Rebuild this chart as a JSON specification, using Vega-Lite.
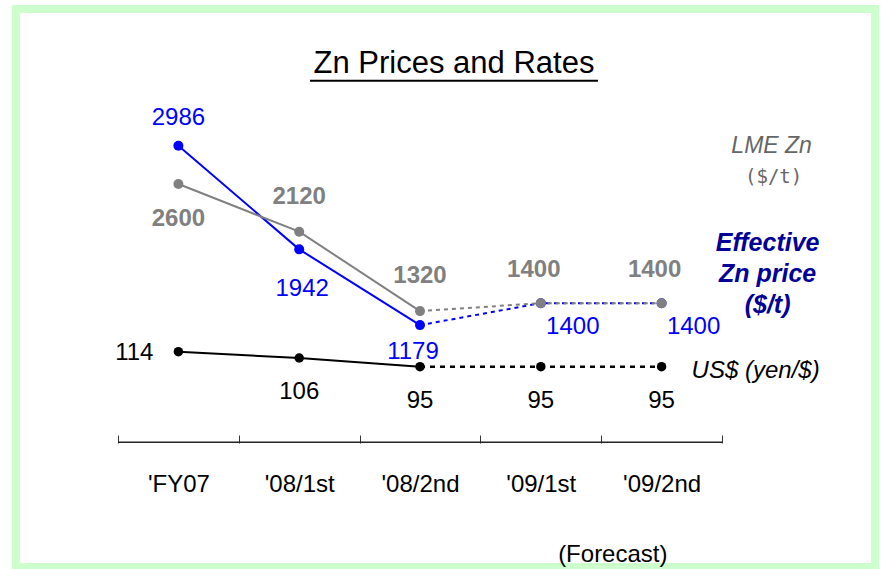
{
  "$schema": "https://vega.github.io/schema/vega-lite/v6.json",
  "width": 859,
  "height": 558,
  "autosize": {"type": "none"},
  "padding": {"left": 16, "top": 9, "right": 6, "bottom": 2},
  "background": "white",
  "config": {
    "view": {"stroke": "#ccffcc", "strokeWidth": 8, "fill": "white"},
    "axisX": {
      "offset": -124, "domain": false, "grid": false, "ticks": true, "tickBand": "extent",
      "tickSize": -8, "tickColor": "#333333", "tickWidth": 1,
      "labelFont": "Liberation Sans", "labelFontSize": 24, "labelColor": "black", "labelPadding": 37, "labelAngle": 0
    },
    "text": {"font": "Liberation Sans", "fontSize": 24, "baseline": "alphabetic"}
  },
  "datasets": {
    "d": [
      {"period": "'FY07", "series": "Eff", "value": 2986},
      {"period": "'08/1st", "series": "Eff", "value": 1942},
      {"period": "'08/2nd", "series": "Eff", "value": 1179},
      {"period": "'09/1st", "series": "Eff", "value": 1400},
      {"period": "'09/2nd", "series": "Eff", "value": 1400},
      {"period": "'FY07", "series": "LME", "value": 2600},
      {"period": "'08/1st", "series": "LME", "value": 2120},
      {"period": "'08/2nd", "series": "LME", "value": 1320},
      {"period": "'09/1st", "series": "LME", "value": 1400},
      {"period": "'09/2nd", "series": "LME", "value": 1400},
      {"period": "'FY07", "series": "USD", "value": 114},
      {"period": "'08/1st", "series": "USD", "value": 106},
      {"period": "'08/2nd", "series": "USD", "value": 95},
      {"period": "'09/1st", "series": "USD", "value": 95},
      {"period": "'09/2nd", "series": "USD", "value": 95}
    ],
    "one": [{}]
  },
  "resolve": {"scale": {"y": "independent"}},
  "layer": [
    {
      "data": {"name": "one"},
      "mark": {"type": "rule", "stroke": "#222222", "strokeWidth": 1.5, "xOffset": -60.4, "x2Offset": 60.4},
      "encoding": {
        "x": {"datum": "'FY07", "type": "nominal", "title": null, "scale": {"type": "band", "round": false, "domain": ["'FY07", "'08/1st", "'08/2nd", "'09/1st", "'09/2nd"], "paddingInner": 0, "paddingOuter": 0, "range": [102, 706]}},
        "x2": {"datum": "'09/2nd"},
        "y": {"datum": 0, "type": "quantitative", "scale": {"domain": [-1256.8, 4362.5], "nice": false, "zero": false}, "axis": null}
      }
    },
    {
      "data": {"name": "d"},
      "transform": [
        {"filter": {"field": "series", "oneOf": ["LME", "Eff"]}},
        {"filter": {"field": "period", "oneOf": ["'FY07", "'08/1st", "'08/2nd"]}}
      ],
      "mark": {"type": "line", "strokeWidth": 2},
      "encoding": {
        "x": {"field": "period", "type": "nominal", "title": null, "scale": {"type": "band", "round": false, "domain": ["'FY07", "'08/1st", "'08/2nd", "'09/1st", "'09/2nd"], "paddingInner": 0, "paddingOuter": 0, "range": [102, 706]}},
        "y": {"field": "value", "type": "quantitative", "scale": {"domain": [-1256.8, 4362.5], "nice": false, "zero": false}, "axis": null},
        "color": {"field": "series", "type": "nominal", "scale": {"domain": ["LME", "Eff"], "range": ["#808080", "#0000ff"]}, "legend": null}
      }
    },
    {
      "data": {"name": "d"},
      "transform": [
        {"filter": {"field": "series", "oneOf": ["LME", "Eff"]}},
        {"filter": {"field": "period", "oneOf": ["'08/2nd", "'09/1st", "'09/2nd"]}}
      ],
      "mark": {"type": "line", "strokeWidth": 2, "strokeDash": [4, 4]},
      "encoding": {
        "x": {"field": "period", "type": "nominal", "title": null, "scale": {"type": "band", "round": false, "domain": ["'FY07", "'08/1st", "'08/2nd", "'09/1st", "'09/2nd"], "paddingInner": 0, "paddingOuter": 0, "range": [102, 706]}},
        "y": {"field": "value", "type": "quantitative", "scale": {"domain": [-1256.8, 4362.5], "nice": false, "zero": false}, "axis": null},
        "color": {"field": "series", "type": "nominal", "scale": {"domain": ["LME", "Eff"], "range": ["#808080", "#0000ff"]}, "legend": null}
      }
    },
    {
      "data": {"name": "d"},
      "transform": [{"filter": {"field": "series", "oneOf": ["LME", "Eff"]}}],
      "mark": {"type": "circle", "size": 100, "opacity": 1},
      "encoding": {
        "x": {"field": "period", "type": "nominal", "title": null, "scale": {"type": "band", "round": false, "domain": ["'FY07", "'08/1st", "'08/2nd", "'09/1st", "'09/2nd"], "paddingInner": 0, "paddingOuter": 0, "range": [102, 706]}},
        "y": {"field": "value", "type": "quantitative", "scale": {"domain": [-1256.8, 4362.5], "nice": false, "zero": false}, "axis": null},
        "color": {"field": "series", "type": "nominal", "scale": {"domain": ["LME", "Eff"], "range": ["#808080", "#0000ff"]}, "legend": null}
      }
    },
    {
      "data": {"name": "d"},
      "transform": [
        {"filter": {"field": "series", "equal": "USD"}},
        {"filter": {"field": "period", "oneOf": ["'FY07", "'08/1st", "'08/2nd"]}}
      ],
      "mark": {"type": "line", "strokeWidth": 2, "color": "black"},
      "encoding": {
        "x": {"field": "period", "type": "nominal", "title": null, "scale": {"type": "band", "round": false, "domain": ["'FY07", "'08/1st", "'08/2nd", "'09/1st", "'09/2nd"], "paddingInner": 0, "paddingOuter": 0, "range": [102, 706]}},
        "y": {"field": "value", "type": "quantitative", "scale": {"domain": [-158.9, 548.4], "nice": false, "zero": false}, "axis": null}
      }
    },
    {
      "data": {"name": "d"},
      "transform": [
        {"filter": {"field": "series", "equal": "USD"}},
        {"filter": {"field": "period", "oneOf": ["'08/2nd", "'09/1st", "'09/2nd"]}}
      ],
      "mark": {"type": "line", "strokeWidth": 2.5, "strokeDash": [5, 5], "color": "black"},
      "encoding": {
        "x": {"field": "period", "type": "nominal", "title": null, "scale": {"type": "band", "round": false, "domain": ["'FY07", "'08/1st", "'08/2nd", "'09/1st", "'09/2nd"], "paddingInner": 0, "paddingOuter": 0, "range": [102, 706]}},
        "y": {"field": "value", "type": "quantitative", "scale": {"domain": [-158.9, 548.4], "nice": false, "zero": false}, "axis": null}
      }
    },
    {
      "data": {"name": "d"},
      "transform": [{"filter": {"field": "series", "equal": "USD"}}],
      "mark": {"type": "circle", "size": 90, "opacity": 1, "color": "black"},
      "encoding": {
        "x": {"field": "period", "type": "nominal", "title": null, "scale": {"type": "band", "round": false, "domain": ["'FY07", "'08/1st", "'08/2nd", "'09/1st", "'09/2nd"], "paddingInner": 0, "paddingOuter": 0, "range": [102, 706]}},
        "y": {"field": "value", "type": "quantitative", "scale": {"domain": [-158.9, 548.4], "nice": false, "zero": false}, "axis": null}
      }
    },
    {
      "data": {"name": "d"},
      "transform": [{"filter": {"field": "series", "equal": "Eff"}}, {"filter": {"field": "period", "equal": "'FY07"}}],
      "mark": {"type": "text", "color": "#0000ff", "align": "center", "dy": -21},
      "encoding": {
        "x": {"field": "period", "type": "nominal", "title": null, "scale": {"type": "band", "round": false, "domain": ["'FY07", "'08/1st", "'08/2nd", "'09/1st", "'09/2nd"], "paddingInner": 0, "paddingOuter": 0, "range": [102, 706]}},
        "y": {"field": "value", "type": "quantitative", "scale": {"domain": [-1256.8, 4362.5], "nice": false, "zero": false}, "axis": null},
        "text": {"field": "value", "type": "quantitative", "format": "d"}
      }
    },
    {
      "data": {"name": "d"},
      "transform": [{"filter": {"field": "series", "equal": "Eff"}}, {"filter": {"field": "period", "equal": "'08/1st"}}],
      "mark": {"type": "text", "color": "#0000ff", "align": "center", "dx": 3, "dy": 47},
      "encoding": {
        "x": {"field": "period", "type": "nominal", "title": null, "scale": {"type": "band", "round": false, "domain": ["'FY07", "'08/1st", "'08/2nd", "'09/1st", "'09/2nd"], "paddingInner": 0, "paddingOuter": 0, "range": [102, 706]}},
        "y": {"field": "value", "type": "quantitative", "scale": {"domain": [-1256.8, 4362.5], "nice": false, "zero": false}, "axis": null},
        "text": {"field": "value", "type": "quantitative", "format": "d"}
      }
    },
    {
      "data": {"name": "d"},
      "transform": [{"filter": {"field": "series", "equal": "Eff"}}, {"filter": {"field": "period", "equal": "'08/2nd"}}],
      "mark": {"type": "text", "color": "#0000ff", "align": "center", "dx": -7, "dy": 34},
      "encoding": {
        "x": {"field": "period", "type": "nominal", "title": null, "scale": {"type": "band", "round": false, "domain": ["'FY07", "'08/1st", "'08/2nd", "'09/1st", "'09/2nd"], "paddingInner": 0, "paddingOuter": 0, "range": [102, 706]}},
        "y": {"field": "value", "type": "quantitative", "scale": {"domain": [-1256.8, 4362.5], "nice": false, "zero": false}, "axis": null},
        "text": {"field": "value", "type": "quantitative", "format": "d"}
      }
    },
    {
      "data": {"name": "d"},
      "transform": [{"filter": {"field": "series", "equal": "Eff"}}, {"filter": {"field": "period", "oneOf": ["'09/1st", "'09/2nd"]}}],
      "mark": {"type": "text", "color": "#0000ff", "align": "center", "dx": 32, "dy": 31},
      "encoding": {
        "x": {"field": "period", "type": "nominal", "title": null, "scale": {"type": "band", "round": false, "domain": ["'FY07", "'08/1st", "'08/2nd", "'09/1st", "'09/2nd"], "paddingInner": 0, "paddingOuter": 0, "range": [102, 706]}},
        "y": {"field": "value", "type": "quantitative", "scale": {"domain": [-1256.8, 4362.5], "nice": false, "zero": false}, "axis": null},
        "text": {"field": "value", "type": "quantitative", "format": "d"}
      }
    },
    {
      "data": {"name": "d"},
      "transform": [{"filter": {"field": "series", "equal": "LME"}}, {"filter": {"field": "period", "equal": "'FY07"}}],
      "mark": {"type": "text", "color": "#808080", "fontWeight": "bold", "align": "center", "dy": 42},
      "encoding": {
        "x": {"field": "period", "type": "nominal", "title": null, "scale": {"type": "band", "round": false, "domain": ["'FY07", "'08/1st", "'08/2nd", "'09/1st", "'09/2nd"], "paddingInner": 0, "paddingOuter": 0, "range": [102, 706]}},
        "y": {"field": "value", "type": "quantitative", "scale": {"domain": [-1256.8, 4362.5], "nice": false, "zero": false}, "axis": null},
        "text": {"field": "value", "type": "quantitative", "format": "d"}
      }
    },
    {
      "data": {"name": "d"},
      "transform": [{"filter": {"field": "series", "equal": "LME"}}, {"filter": {"field": "period", "oneOf": ["'08/1st", "'08/2nd"]}}],
      "mark": {"type": "text", "color": "#808080", "fontWeight": "bold", "align": "center", "dy": -28},
      "encoding": {
        "x": {"field": "period", "type": "nominal", "title": null, "scale": {"type": "band", "round": false, "domain": ["'FY07", "'08/1st", "'08/2nd", "'09/1st", "'09/2nd"], "paddingInner": 0, "paddingOuter": 0, "range": [102, 706]}},
        "y": {"field": "value", "type": "quantitative", "scale": {"domain": [-1256.8, 4362.5], "nice": false, "zero": false}, "axis": null},
        "text": {"field": "value", "type": "quantitative", "format": "d"}
      }
    },
    {
      "data": {"name": "d"},
      "transform": [{"filter": {"field": "series", "equal": "LME"}}, {"filter": {"field": "period", "oneOf": ["'09/1st", "'09/2nd"]}}],
      "mark": {"type": "text", "color": "#808080", "fontWeight": "bold", "align": "center", "dx": -7, "dy": -26},
      "encoding": {
        "x": {"field": "period", "type": "nominal", "title": null, "scale": {"type": "band", "round": false, "domain": ["'FY07", "'08/1st", "'08/2nd", "'09/1st", "'09/2nd"], "paddingInner": 0, "paddingOuter": 0, "range": [102, 706]}},
        "y": {"field": "value", "type": "quantitative", "scale": {"domain": [-1256.8, 4362.5], "nice": false, "zero": false}, "axis": null},
        "text": {"field": "value", "type": "quantitative", "format": "d"}
      }
    },
    {
      "data": {"name": "d"},
      "transform": [{"filter": {"field": "series", "equal": "USD"}}, {"filter": {"field": "period", "equal": "'FY07"}}],
      "mark": {"type": "text", "color": "black", "align": "right", "dx": -25, "dy": 8},
      "encoding": {
        "x": {"field": "period", "type": "nominal", "title": null, "scale": {"type": "band", "round": false, "domain": ["'FY07", "'08/1st", "'08/2nd", "'09/1st", "'09/2nd"], "paddingInner": 0, "paddingOuter": 0, "range": [102, 706]}},
        "y": {"field": "value", "type": "quantitative", "scale": {"domain": [-158.9, 548.4], "nice": false, "zero": false}, "axis": null},
        "text": {"field": "value", "type": "quantitative", "format": "d"}
      }
    },
    {
      "data": {"name": "d"},
      "transform": [{"filter": {"field": "series", "equal": "USD"}}, {"filter": {"field": "period", "oneOf": ["'08/1st", "'08/2nd", "'09/1st", "'09/2nd"]}}],
      "mark": {"type": "text", "color": "black", "align": "center", "dy": 41},
      "encoding": {
        "x": {"field": "period", "type": "nominal", "title": null, "scale": {"type": "band", "round": false, "domain": ["'FY07", "'08/1st", "'08/2nd", "'09/1st", "'09/2nd"], "paddingInner": 0, "paddingOuter": 0, "range": [102, 706]}},
        "y": {"field": "value", "type": "quantitative", "scale": {"domain": [-158.9, 548.4], "nice": false, "zero": false}, "axis": null},
        "text": {"field": "value", "type": "quantitative", "format": "d"}
      }
    },
    {
      "data": {"name": "one"},
      "mark": {"type": "text", "text": "Zn Prices and Rates", "fontSize": 31, "color": "black", "align": "center", "dx": 34},
      "encoding": {
        "x": {"datum": "'08/2nd", "type": "nominal", "title": null, "scale": {"type": "band", "round": false, "domain": ["'FY07", "'08/1st", "'08/2nd", "'09/1st", "'09/2nd"], "paddingInner": 0, "paddingOuter": 0, "range": [102, 706]}},
        "y": {"datum": 3718, "type": "quantitative", "scale": {"domain": [-1256.8, 4362.5], "nice": false, "zero": false}, "axis": null}
      }
    },
    {
      "data": {"name": "one"},
      "mark": {"type": "rule", "stroke": "black", "strokeWidth": 2, "xOffset": -110, "x2Offset": 178},
      "encoding": {
        "x": {"datum": "'08/2nd", "type": "nominal", "title": null, "scale": {"type": "band", "round": false, "domain": ["'FY07", "'08/1st", "'08/2nd", "'09/1st", "'09/2nd"], "paddingInner": 0, "paddingOuter": 0, "range": [102, 706]}},
        "x2": {"datum": "'08/2nd"},
        "y": {"datum": 3640, "type": "quantitative", "scale": {"domain": [-1256.8, 4362.5], "nice": false, "zero": false}, "axis": null}
      }
    },
    {
      "data": {"name": "one"},
      "mark": {"type": "text", "text": "LME Zn", "fontSize": 23, "fontStyle": "italic", "color": "#666666", "align": "center", "dx": 110},
      "encoding": {
        "x": {"datum": "'09/2nd", "type": "nominal", "title": null, "scale": {"type": "band", "round": false, "domain": ["'FY07", "'08/1st", "'08/2nd", "'09/1st", "'09/2nd"], "paddingInner": 0, "paddingOuter": 0, "range": [102, 706]}},
        "y": {"datum": 2912, "type": "quantitative", "scale": {"domain": [-1256.8, 4362.5], "nice": false, "zero": false}, "axis": null}
      }
    },
    {
      "data": {"name": "one"},
      "mark": {"type": "text", "text": "($/t)", "font": "DejaVu Sans Mono", "fontSize": 19, "color": "#666666", "align": "center", "dx": 112},
      "encoding": {
        "x": {"datum": "'09/2nd", "type": "nominal", "title": null, "scale": {"type": "band", "round": false, "domain": ["'FY07", "'08/1st", "'08/2nd", "'09/1st", "'09/2nd"], "paddingInner": 0, "paddingOuter": 0, "range": [102, 706]}},
        "y": {"datum": 2610, "type": "quantitative", "scale": {"domain": [-1256.8, 4362.5], "nice": false, "zero": false}, "axis": null}
      }
    },
    {
      "data": {"name": "one"},
      "mark": {"type": "text", "text": ["Effective", "Zn price", "($/t)"], "lineHeight": 31, "fontSize": 25, "fontStyle": "italic", "fontWeight": "bold", "color": "#000099", "align": "center", "dx": 106},
      "encoding": {
        "x": {"datum": "'09/2nd", "type": "nominal", "title": null, "scale": {"type": "band", "round": false, "domain": ["'FY07", "'08/1st", "'08/2nd", "'09/1st", "'09/2nd"], "paddingInner": 0, "paddingOuter": 0, "range": [102, 706]}},
        "y": {"datum": 1925, "type": "quantitative", "scale": {"domain": [-1256.8, 4362.5], "nice": false, "zero": false}, "axis": null}
      }
    },
    {
      "data": {"name": "one"},
      "mark": {"type": "text", "text": "US$ (yen/$)", "fontSize": 24, "fontStyle": "italic", "color": "black", "align": "left", "dx": 30},
      "encoding": {
        "x": {"datum": "'09/2nd", "type": "nominal", "title": null, "scale": {"type": "band", "round": false, "domain": ["'FY07", "'08/1st", "'08/2nd", "'09/1st", "'09/2nd"], "paddingInner": 0, "paddingOuter": 0, "range": [102, 706]}},
        "y": {"datum": 646, "type": "quantitative", "scale": {"domain": [-1256.8, 4362.5], "nice": false, "zero": false}, "axis": null}
      }
    },
    {
      "data": {"name": "one"},
      "mark": {"type": "text", "text": "(Forecast)", "fontSize": 24, "color": "black", "align": "center", "dx": 72},
      "encoding": {
        "x": {"datum": "'09/1st", "type": "nominal", "title": null, "scale": {"type": "band", "round": false, "domain": ["'FY07", "'08/1st", "'08/2nd", "'09/1st", "'09/2nd"], "paddingInner": 0, "paddingOuter": 0, "range": [102, 706]}},
        "y": {"datum": -1206, "type": "quantitative", "scale": {"domain": [-1256.8, 4362.5], "nice": false, "zero": false}, "axis": null}
      }
    }
  ]
}
